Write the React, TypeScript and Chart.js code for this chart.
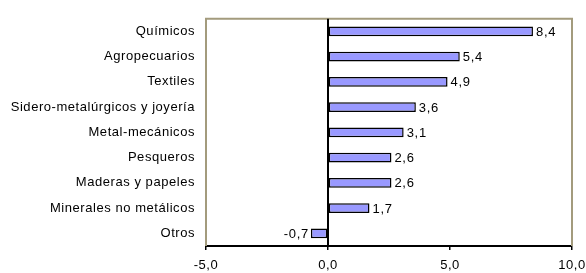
import React, { useEffect, useRef } from "react";
import { Chart, registerables } from "chart.js";

Chart.register(...registerables);

const categories = [
  "Químicos",
  "Agropecuarios",
  "Textiles",
  "Sidero-metalúrgicos y joyería",
  "Metal-mecánicos",
  "Pesqueros",
  "Maderas y papeles",
  "Minerales no metálicos",
  "Otros",
];
const values = [8.4, 5.4, 4.9, 3.6, 3.1, 2.6, 2.6, 1.7, -0.7];
const xTicks = [-5, 0, 5, 10];

const fmt = (v: number) => v.toFixed(1).replace(".", ",");
const FONT = "'Liberation Sans', Arial, sans-serif";

const framePlugin = {
  id: "frame",
  beforeDraw(chart: any) {
    (chart.ctx as any).letterSpacing = "0.55px";
  },
  beforeDatasetsDraw(chart: any) {
    const { ctx, chartArea } = chart;
    const { left, right, top, bottom } = chartArea;
    ctx.save();
    ctx.strokeStyle = "#a39b7d";
    ctx.lineWidth = 2;
    ctx.beginPath();
    ctx.moveTo(left, bottom);
    ctx.lineTo(left, top);
    ctx.lineTo(right, top);
    ctx.lineTo(right, bottom);
    ctx.stroke();
    const x0 = chart.scales.x.getPixelForValue(0);
    ctx.strokeStyle = "#000";
    ctx.lineWidth = 2;
    ctx.beginPath();
    ctx.moveTo(x0, top);
    ctx.lineTo(x0, bottom);
    ctx.stroke();
    ctx.restore();
  },
  afterDatasetsDraw(chart: any) {
    const { ctx } = chart;
    const meta = chart.getDatasetMeta(0);
    ctx.save();
    ctx.font = "13px " + FONT;
    (ctx as any).letterSpacing = "0.7px";
    ctx.fillStyle = "#000";
    ctx.textBaseline = "middle";
    meta.data.forEach((bar: any, i: number) => {
      const v = values[i];
      const txt = fmt(v);
      if (v >= 0) {
        ctx.textAlign = "left";
        ctx.fillText(txt, bar.x + 3, bar.y + 1);
      } else {
        ctx.textAlign = "right";
        ctx.fillText(txt, bar.x - 2, bar.y + 1);
      }
    });
    ctx.restore();
  },
};

export default function App() {
  const ref = useRef<HTMLCanvasElement>(null);
  useEffect(() => {
    document.body.style.margin = "0";
    const chart = new Chart(ref.current!, {
      type: "bar",
      data: {
        labels: categories,
        datasets: [
          {
            data: values,
            backgroundColor: "#9999ff",
            borderColor: "#000",
            borderWidth: 1.5,
            borderSkipped: false,
            barPercentage: 0.78,
            categoryPercentage: 0.5,
          },
        ],
      },
      options: {
        indexAxis: "y",
        animation: false,
        responsive: false,
        maintainAspectRatio: false,
        layout: { padding: { left: 0, right: 14, top: 13, bottom: 0 } },
        plugins: {
          legend: { display: false },
          tooltip: { enabled: false },
        },
        scales: {
          x: {
            min: -5,
            max: 10,
            afterBuildTicks(scale: any) {
              scale.ticks = xTicks.map((v) => ({ value: v }));
            },
            afterFit(scale: any) {
              scale.height = 27;
              scale.paddingLeft = 0;
              scale.paddingRight = 0;
            },
            grid: {
              drawOnChartArea: false,
              drawTicks: true,
              tickLength: 4,
              tickColor: "#000",
              lineWidth: 1.5,
            },
            border: { display: true, color: "#000", width: 2 },
            ticks: {
              padding: 8,
              color: "#000",
              font: { family: FONT, size: 13 },
              callback: (v: any) => fmt(Number(v)),
              maxRotation: 0,
            },
          },
          y: {
            afterFit(scale: any) {
              scale.width = 206;
            },
            grid: { display: false, drawTicks: false },
            border: { display: false },
            ticks: {
              padding: 11,
              color: "#000",
              font: { family: FONT, size: 13 },
            },
          },
        },
      },
      plugins: [framePlugin],
    });
    return () => chart.destroy();
  }, []);
  return <canvas ref={ref} width={586} height={273} style={{ display: "block" }} />;
}
